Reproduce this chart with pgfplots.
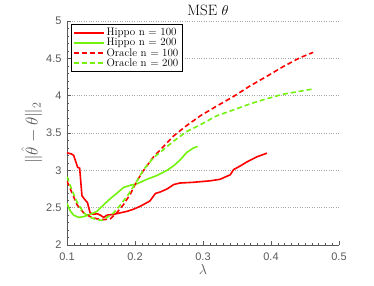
\documentclass[border=0pt]{standalone}
\usepackage{fontspec}
\newfontfamily\ticksans{Liberation Sans}
\usepackage{pgfplots}
\pgfplotsset{compat=1.18}
\definecolor{mred}{rgb}{1,0,0}
\definecolor{mgreen}{rgb}{0.45,0.95,0.05}
\definecolor{axgray}{gray}{0.35}
\begin{document}
\begin{tikzpicture}
\begin{axis}[
  scale only axis,
  width=272pt, height=224pt,
  xmin=0.1, xmax=0.5, ymin=2, ymax=5,
  axis lines=left,
  axis line style={axgray, -},
  xtick={0.1,0.2,0.3,0.4,0.5},
  ytick={2,2.5,3,3.5,4,4.5,5},
  minor x tick num=9,
  minor y tick num=4,
  tick align=inside,
  major tick length=4pt, minor tick length=2pt,
  tick style={axgray, thin},
  ymajorgrids,
  grid style={dotted, gray!70},
  ticklabel style={font=\ticksans\fontsize{11}{12}\selectfont, text=axgray},
  /pgf/number format/assume math mode=true,
  xticklabel style={/pgf/number format/fixed, /pgf/number format/precision=1, yshift=-4pt},
  yticklabel style={/pgf/number format/fixed, xshift=-2pt},
  title={MSE $\theta$},
  title style={font=\fontsize{15}{17}\selectfont, yshift=-4pt, xshift=5pt},
  xlabel={$\lambda$},
  ylabel={$\|\hat{\theta}-\theta\|_2$},
  label style={text=axgray},
  xlabel style={font=\fontsize{15}{17}\selectfont, yshift=3pt},
  ylabel style={font=\fontsize{17}{19}\selectfont, yshift=-3pt},
  legend style={at={(0.015,0.985)}, anchor=north west, draw=black, line width=0.8pt, font=\fontsize{11}{12}\selectfont, inner sep=1.5pt, row sep=-3pt},
  legend cell align=left,
  legend image code/.code={\draw[#1] (0pt,0pt) -- (30pt,0pt);},
]
\addplot[mred, line width=1.6pt, no markers] coordinates {
(0.1,3.235) (0.1064,3.22) (0.1098,3.20) (0.1157,3.04) (0.1186,3.03) (0.122,2.66) (0.126,2.61) (0.130,2.57) (0.134,2.43) (0.139,2.41) (0.144,2.42) (0.149,2.40) (0.154,2.37) (0.159,2.40) (0.1685,2.41) (0.178,2.43) (0.188,2.45) (0.198,2.48) (0.208,2.52) (0.222,2.59) (0.230,2.69) (0.237,2.71) (0.247,2.75) (0.257,2.81) (0.266,2.83) (0.286,2.84) (0.311,2.86) (0.325,2.88) (0.340,2.94) (0.345,3.01) (0.355,3.06) (0.364,3.11) (0.379,3.18) (0.394,3.23)
};
\addlegendentry{Hippo n = 100}
\addplot[mgreen, line width=1.6pt, no markers] coordinates {
(0.1,2.557) (0.1049,2.455) (0.1098,2.40) (0.117,2.37) (0.1245,2.38) (0.134,2.41) (0.144,2.45) (0.154,2.54) (0.1636,2.62) (0.173,2.69) (0.183,2.77) (0.193,2.80) (0.203,2.82) (0.2175,2.88) (0.232,2.93) (0.247,3.00) (0.2567,3.06) (0.2665,3.14) (0.276,3.24) (0.286,3.30) (0.292,3.32)
};
\addlegendentry{Hippo n = 200}
\addplot[mred, line width=1.6pt, dash pattern=on 5pt off 3pt, no markers] coordinates {
(0.1,2.856) (0.1073,2.70) (0.1147,2.54) (0.1245,2.43) (0.134,2.38) (0.144,2.35) (0.154,2.34) (0.1636,2.35) (0.173,2.43) (0.183,2.54) (0.193,2.68) (0.203,2.86) (0.2126,3.00) (0.2273,3.18) (0.242,3.32) (0.2567,3.46) (0.276,3.60) (0.296,3.73) (0.320,3.86) (0.345,3.99) (0.369,4.13) (0.394,4.26) (0.418,4.39) (0.443,4.51) (0.462,4.58)
};
\addlegendentry{Oracle n = 100}
\addplot[mgreen, line width=1.6pt, dash pattern=on 5pt off 3pt, no markers] coordinates {
(0.1,2.914) (0.1073,2.736) (0.1147,2.575) (0.1245,2.43) (0.134,2.37) (0.144,2.34) (0.1515,2.33) (0.159,2.37) (0.1685,2.43) (0.178,2.53) (0.1905,2.68) (0.203,2.86) (0.2126,3.01) (0.2273,3.17) (0.242,3.28) (0.2567,3.39) (0.276,3.52) (0.296,3.61) (0.320,3.73) (0.345,3.81) (0.369,3.89) (0.394,3.96) (0.418,4.02) (0.443,4.06) (0.462,4.09)
};
\addlegendentry{Oracle n = 200}
\end{axis}
\path (current axis.origin) ++(-67pt,-40pt) rectangle ++(374pt,285pt);
\end{tikzpicture}
\end{document}
